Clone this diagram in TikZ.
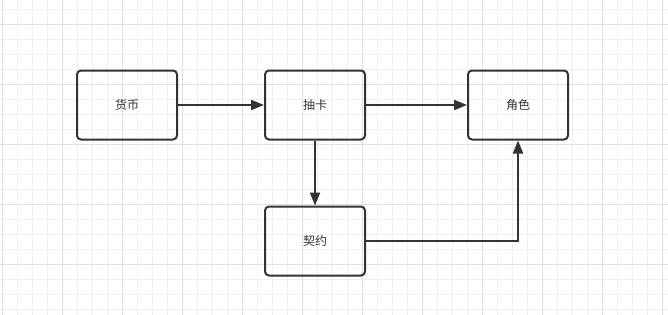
\documentclass[tikz,border=0pt]{standalone}
\usepackage{fontspec}
\newfontfamily\cjk{Noto Sans CJK SC}
\usetikzlibrary{arrows.meta,positioning}
\definecolor{inkgray}{HTML}{333333}
\definecolor{gridminor}{HTML}{EFEFEF}
\definecolor{gridmajor}{HTML}{E0E0E0}

\begin{document}
\begin{tikzpicture}[x=1pt,y=1pt,>={Triangle[length=13pt,width=10pt]},node distance=86pt,
  every node/.style={draw=inkgray,line width=2pt,rounded corners=4pt,align=center,minimum width=100pt,minimum height=69pt,font=\cjk\fontsize{12}{14}\selectfont,text=inkgray}]
    \useasboundingbox (0,0) rectangle (668,-314);
    \fill[white] (0,0) rectangle (668,-314);
    \draw[gridminor,line width=0.8pt,step=15,shift={(2.5,-9.5)}] (-15,15) grid (675,-320);
    \draw[gridmajor,line width=0.8pt,step=60,shift={(2.5,-24.5)}] (-60,60) grid (720,-300);
    \node (coin) at (127,-105) {货币};
    \node (draw) [right=of coin] {抽卡};
    \node (hero) [right=101pt of draw] {角色};
    \node (pact) [below=65pt of draw] {契约};
    \draw[->,inkgray,line width=2pt] (coin)--(draw);
    \draw[->,inkgray,line width=2pt] (draw)--(hero);
    \draw[->,inkgray,line width=2pt] (draw)--(pact);
    \draw[->,inkgray,line width=2pt] (pact.east)-|(hero.south);
  \end{tikzpicture}
\end{document}
